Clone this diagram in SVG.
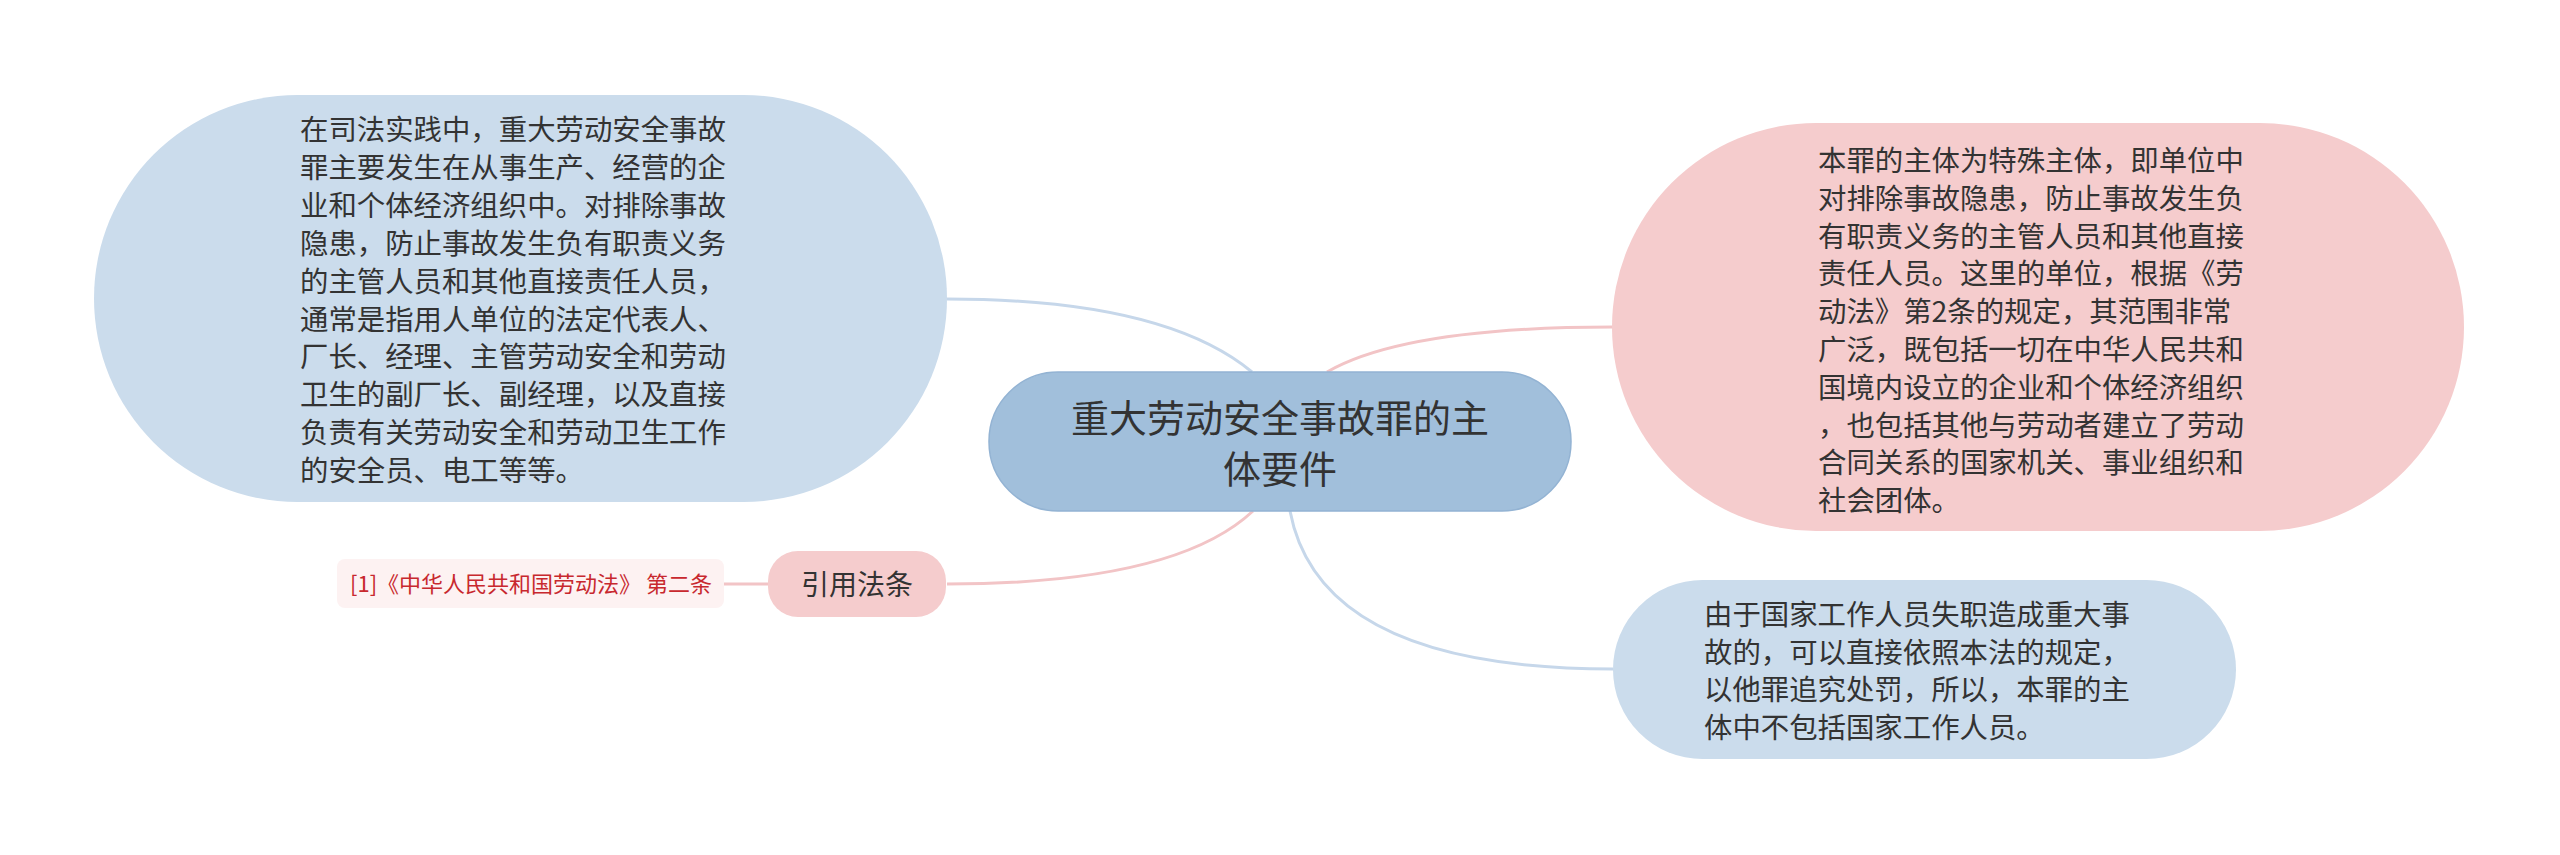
<svg xmlns="http://www.w3.org/2000/svg" width="2560" height="855" viewBox="0 0 2560 855">
<style>
.t{font-family:"Noto Sans CJK SC","Noto Sans",sans-serif;fill:#333333;}
.body{font-size:28.4px;}
.blue{fill:#cbdcec;}
.pink{fill:#f5cccd;}
.lb{fill:none;stroke:#c6d7ea;stroke-width:3;}
.lp{fill:none;stroke:#f2c4c6;stroke-width:3;}
</style>
<rect width="2560" height="855" fill="#ffffff"/>
<g id="connectors">
<path class="lb" d="M 947 299 Q 1164 299 1252 372"/>
<path class="lp" d="M 1327 372 Q 1405 327 1613 327"/>
<path class="lp" d="M 1253 511 Q 1175 584 947 584"/>
<path class="lb" d="M 1290 511 Q 1320 669 1613 669"/>
<path class="lp" d="M 724 584 L 768 584"/>
</g>
<g id="center">
<rect x="989" y="372" width="582" height="139" rx="69" ry="69" fill="#a1bfdb" stroke="#93b3d3" stroke-width="1.5"/>
<text class="t" font-size="38" text-anchor="middle" fill="#2d2d2d"><tspan x="1280" y="432">重大劳动安全事故罪的主</tspan><tspan x="1280" y="483">体要件</tspan></text>
</g>
<g id="node-left">
<rect class="blue" x="94" y="95" width="853" height="407" rx="203.5" ry="203.5"/>
<text class="t body">
<tspan x="300" y="140">在司法实践中，重大劳动安全事故</tspan>
<tspan x="300" y="177.9">罪主要发生在从事生产、经营的企</tspan>
<tspan x="300" y="215.8">业和个体经济组织中。对排除事故</tspan>
<tspan x="300" y="253.7">隐患，防止事故发生负有职责义务</tspan>
<tspan x="300" y="291.6">的主管人员和其他直接责任人员，</tspan>
<tspan x="300" y="329.5">通常是指用人单位的法定代表人、</tspan>
<tspan x="300" y="367.4">厂长、经理、主管劳动安全和劳动</tspan>
<tspan x="300" y="405.3">卫生的副厂长、副经理，以及直接</tspan>
<tspan x="300" y="443.2">负责有关劳动安全和劳动卫生工作</tspan>
<tspan x="300" y="481.1">的安全员、电工等等。</tspan>
</text>
</g>
<g id="node-right">
<rect class="pink" x="1612" y="123" width="852" height="408" rx="204" ry="204"/>
<text class="t body">
<tspan x="1818" y="171">本罪的主体为特殊主体，即单位中</tspan>
<tspan x="1818" y="208.8">对排除事故隐患，防止事故发生负</tspan>
<tspan x="1818" y="246.6">有职责义务的主管人员和其他直接</tspan>
<tspan x="1818" y="284.4">责任人员。这里的单位，根据《劳</tspan>
<tspan x="1818" y="322.2">动法》第2条的规定，其范围非常</tspan>
<tspan x="1818" y="360">广泛，既包括一切在中华人民共和</tspan>
<tspan x="1818" y="397.8">国境内设立的企业和个体经济组织</tspan>
<tspan x="1818" y="435.6">，也包括其他与劳动者建立了劳动</tspan>
<tspan x="1818" y="473.4">合同关系的国家机关、事业组织和</tspan>
<tspan x="1818" y="511.2">社会团体。</tspan>
</text>
</g>
<g id="node-bottom">
<rect class="blue" x="1613" y="580" width="623" height="179" rx="89.5" ry="89.5"/>
<text class="t body">
<tspan x="1704" y="625">由于国家工作人员失职造成重大事</tspan>
<tspan x="1704" y="662.5">故的，可以直接依照本法的规定，</tspan>
<tspan x="1704" y="700">以他罪追究处罚，所以，本罪的主</tspan>
<tspan x="1704" y="737.5">体中不包括国家工作人员。</tspan>
</text>
</g>
<g id="node-cite">
<rect class="pink" x="768" y="551" width="178" height="66" rx="30" ry="30"/>
<text class="t" font-size="28" text-anchor="middle" x="857" y="595">引用法条</text>
</g>
<g id="node-ref">
<rect x="337" y="559" width="387" height="49" rx="8" ry="8" fill="#fdf2f2"/>
<text class="t" font-size="22" fill="#c8282e" style="fill:#c8282e" x="350" y="592">[1]《中华人民共和国劳动法》 第二条</text>
</g>
</svg>
